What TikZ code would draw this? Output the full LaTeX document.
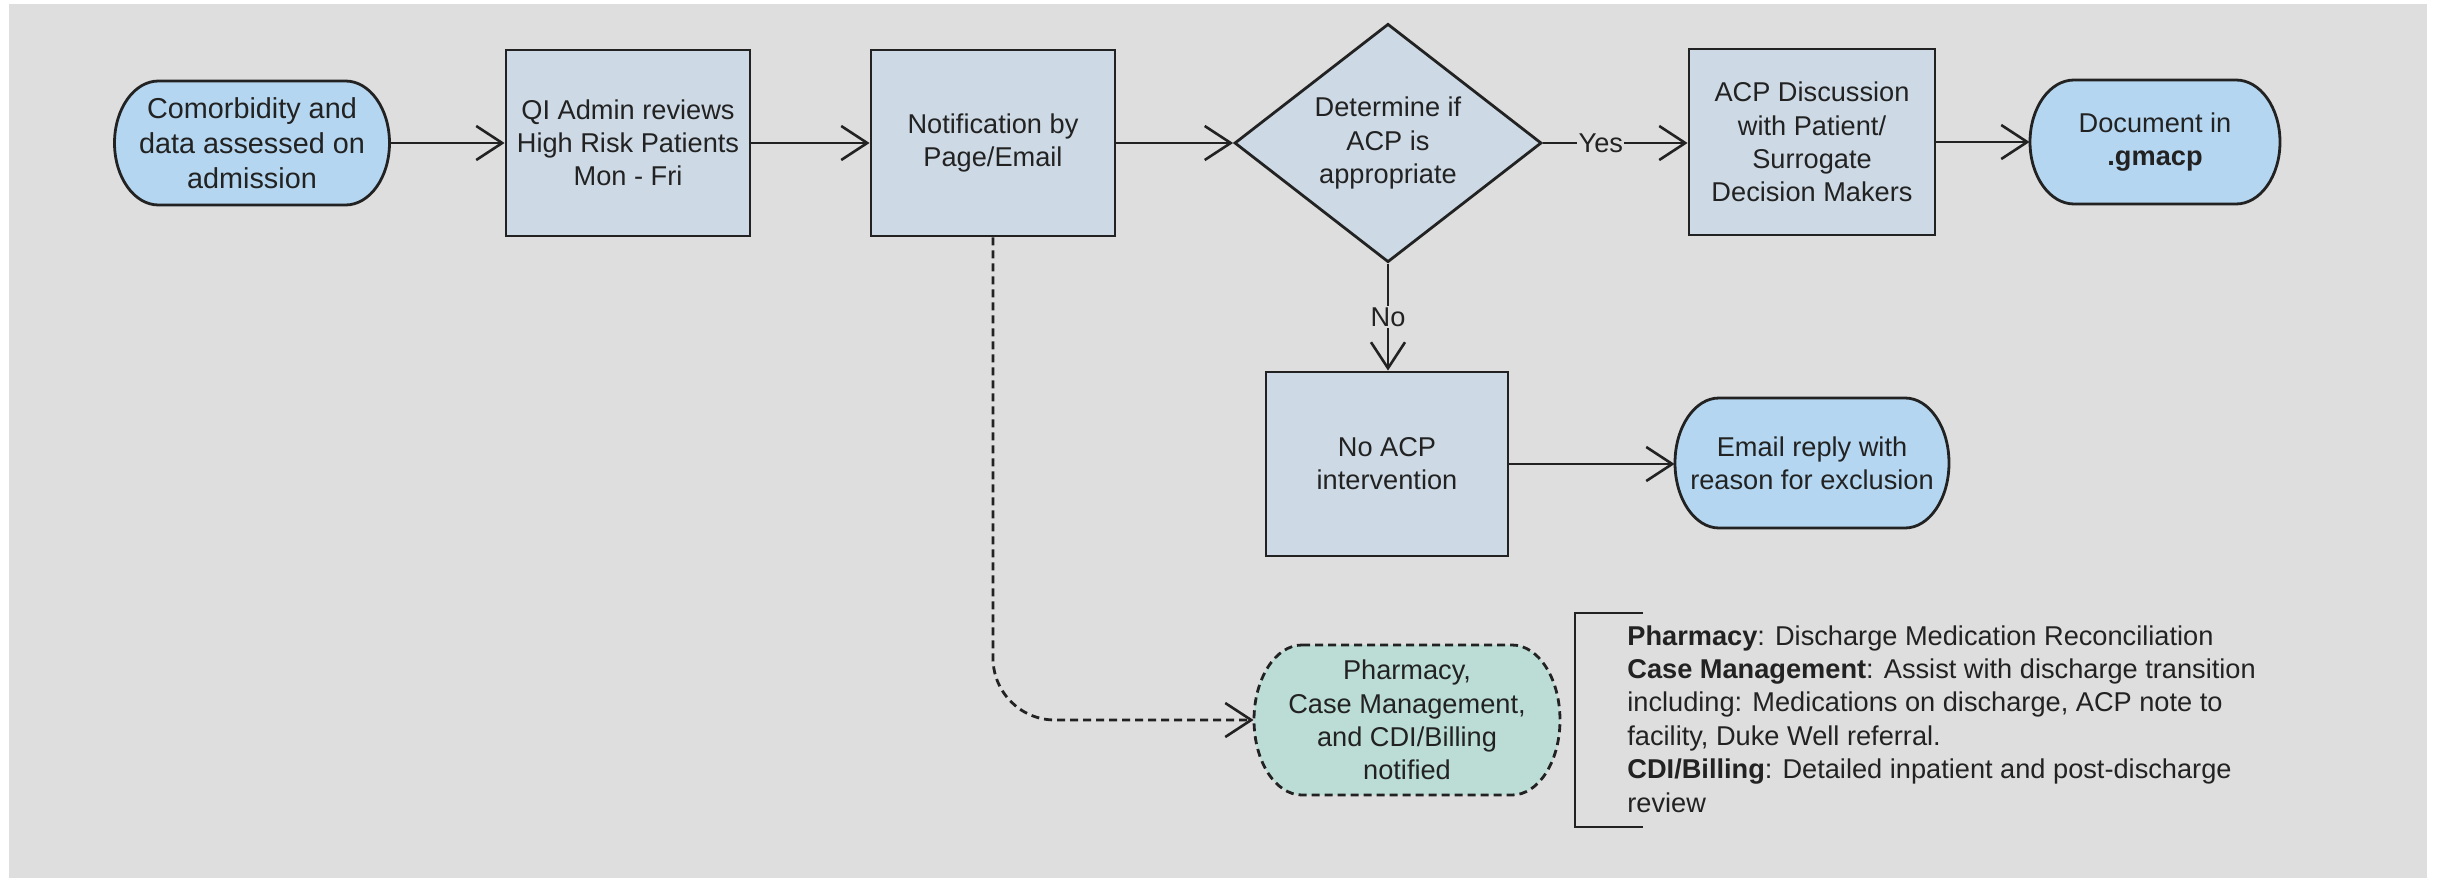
\documentclass[tikz,border=0pt]{standalone}
\usepackage{fontspec}
\setmainfont{Liberation Sans}
\usetikzlibrary{arrows.meta,shapes.geometric,calc}

\definecolor{canvas}{HTML}{DEDEDE}
\definecolor{procblue}{HTML}{CDDAE5}
\definecolor{termblue}{HTML}{B4D6F0}
\definecolor{notegreen}{HTML}{BCDDD6}
\definecolor{ink}{HTML}{222222}

% Capsule outline with elliptical ends:
% #1 options, #2 centre coordinate name, #3 half width, #4 half height, #5 end radius (all in pt)
\newcommand\capsule[5]{%
  \path[#1] ([shift={(#5pt-#3pt,#4pt)}]#2) -- ([shift={(#3pt-#5pt,#4pt)}]#2)
    arc[start angle=90, end angle=-90, x radius=#5pt, y radius=#4pt]
    -- ([shift={(#5pt-#3pt,-#4pt)}]#2)
    arc[start angle=270, end angle=90, x radius=#5pt, y radius=#4pt] -- cycle;}

\begin{document}
\begin{tikzpicture}[x=0.5pt,y=-0.5pt,
  txt/.style={font=\fontsize{13.6}{16.6}\selectfont, text=ink, align=center},
  process/.style={txt, draw=ink, line width=1.4pt, fill=procblue,
    minimum width=122pt, minimum height=93pt, inner sep=0pt},
  decision/.style={txt, draw=ink, line width=1.4pt, fill=procblue, diamond,
    minimum width=153.5pt, minimum height=115pt, inner sep=0pt},
  termtext/.style={txt, inner sep=0pt},
  termline/.style={draw=ink, line width=1.4pt, fill=termblue},
  noteline/.style={draw=ink, line width=1.4pt, fill=notegreen,
    dash pattern=on 4pt off 2.5pt},
  flow/.style={draw=ink, line width=1.4pt,
    -{Straight Barb[length=13pt,width=17pt,line width=1.3pt]}},
  lbl/.style={txt, fill=canvas, inner sep=0.6pt}
]
\useasboundingbox (0,0) rectangle (2438,878);
\fill[white] (0,0) rectangle (2438,878);
\fill[canvas] (9,4) rectangle (2427,878);

% centres of the capsule shapes
\coordinate (comc) at (252,143);
\coordinate (docc) at (2155,142);
\coordinate (emailc) at (1812,463);
\coordinate (pharmc) at (1407,720);

% top row
\capsule{termline}{comc}{68.75}{31}{22}
\node[termtext, font=\fontsize{14.4}{17.4}\selectfont, minimum width=137.5pt, minimum height=62pt]
  (com) at (comc) {Comorbidity and\\data assessed on\\admission};
\node[process] (qi) at (628,143) {QI Admin reviews\\High Risk Patients\\Mon - Fri};
\node[process] (notif) at (993,143) {Notification by\\Page/Email};
\node[decision] (dec) at (1388,143) {Determine if\\ACP is\\appropriate};
\node[process, minimum width=123pt] (acp) at (1812,142) {ACP Discussion\\with Patient/\\Surrogate\\Decision Makers};
\capsule{termline}{docc}{62.5}{31}{22}
\node[termtext, minimum width=125pt, minimum height=62pt] (doc) at (docc)
  {Document in\\\textbf{.gmacp}};

% "No" branch
\node[process, minimum width=121pt, minimum height=92pt] (noacp) at (1387,464) {No ACP\\intervention};
\capsule{termline}{emailc}{68.5}{32.5}{22}
\node[termtext, minimum width=137pt, minimum height=65pt] (email) at (emailc)
  {Email reply with\\reason for exclusion};

% notification of services
\capsule{noteline}{pharmc}{76.5}{37.5}{24}
\node[termtext, minimum width=153pt, minimum height=75pt] (pharm) at (pharmc)
  {Pharmacy,\\Case Management,\\and CDI/Billing\\notified};

% connectors
\draw[flow] (com.east) -- (qi.west);
\draw[flow] (qi.east) -- (notif.west);
\draw[flow] (notif.east) -- (dec.west);
\draw[flow] (dec.east) -- node[lbl, pos=0.4] {Yes} (dec.east -| acp.west);
\draw[flow] (acp.east) -- (acp.east -| doc.west);
\draw[flow] (dec.south) -- node[lbl, pos=0.5] {No} (dec.south |- noacp.north);
\draw[flow] (noacp.east) -- (noacp.east -| email.west);
\draw[flow, dash pattern=on 4pt off 2.5pt, rounded corners=31pt] (notif.south) |- (pharm.west);

% bracketed service notes
\coordinate (brtop) at (1643,613);
\coordinate (brbot) at (1643,827);
\draw[ink, line width=1.4pt] (brtop) -- ++(-68,0) coordinate (brl) -- (brl |- brbot) -- (brbot);
\node[anchor=north west, align=left, inner sep=0pt, text=ink,
  font=\fontsize{13.6}{16.7}\selectfont] (notes) at (1627,625)
  {\textbf{Pharmacy}: Discharge Medication Reconciliation\\
   \textbf{Case Management}: Assist with discharge transition\\
   including: Medications on discharge, ACP note to\\
   facility, Duke Well referral.\\
   \textbf{CDI/Billing}: Detailed inpatient and post-discharge\\
   review};
\end{tikzpicture}
\end{document}
